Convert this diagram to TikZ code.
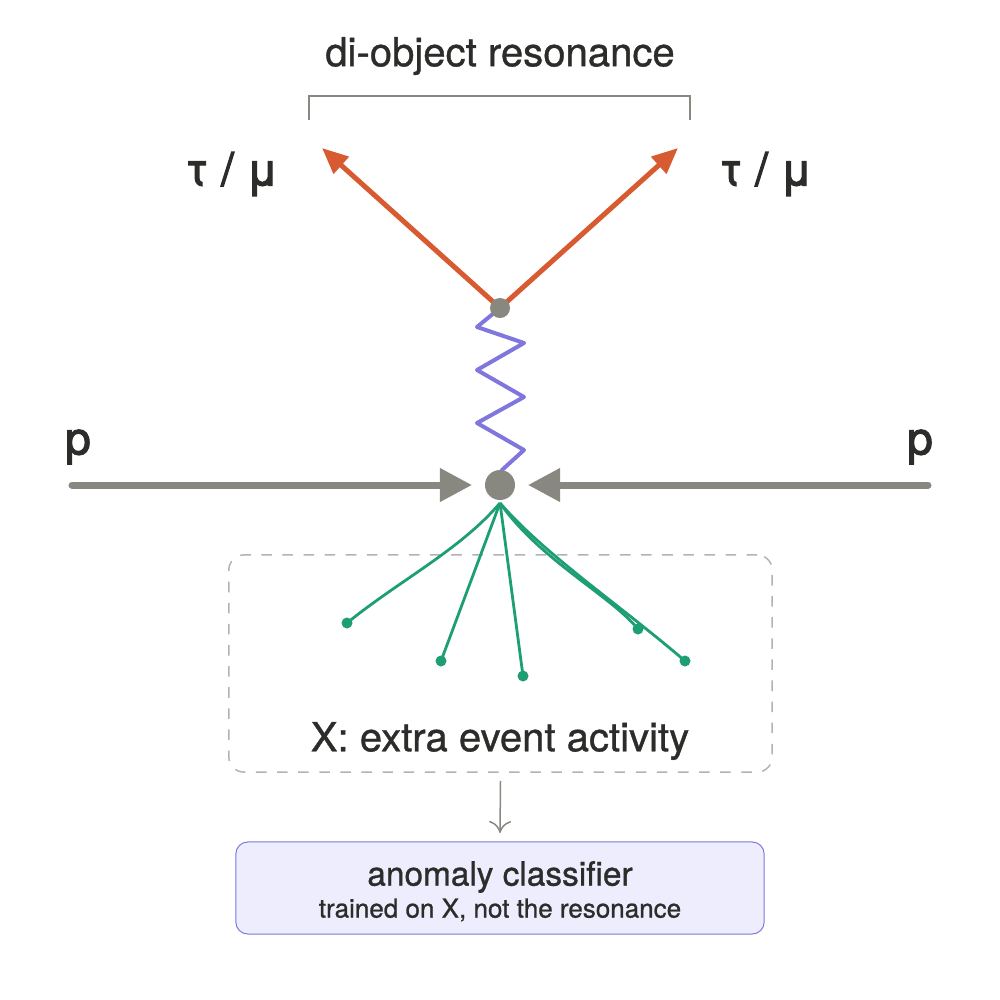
\documentclass[tikz,border=0pt]{standalone}
\usepackage{fontspec}
\setmainfont{TeX Gyre Heros}[FakeBold=0.9]
\newfontfamily\medfont{TeX Gyre Heros}[FakeBold=2.6]
\usetikzlibrary{arrows.meta}
\definecolor{cgray}{HTML}{888780}
\definecolor{corange}{HTML}{D85A30}
\definecolor{cpurple}{HTML}{7F77DD}
\definecolor{cgreen}{HTML}{1D9E75}
\definecolor{cfill}{HTML}{EEEDFE}
\definecolor{ctext}{HTML}{2C2C2A}
\definecolor{cdash}{HTML}{B4B2A9}
\tikzset{
  lbl/.style={text=ctext, inner sep=0pt},
  biglbl/.style={text=ctext, inner sep=0pt, font=\medfont\fontsize{13}{15}\selectfont},
  vtx/.style={circle, fill=cgray, inner sep=0pt},
  lepton/.style={draw=corange, line width=0.5mm, -{Triangle[length=2.6mm,width=2.2mm]}},
  beam/.style={draw=cgray, line width=0.7mm, line cap=round, -{Triangle[length=3.2mm,width=3.2mm]}},
  jet/.style={draw=cgreen, line width=0.28mm},
  jdot/.style={circle, fill=cgreen, inner sep=0pt, minimum size=1.1mm},
}
\begin{document}
\begin{tikzpicture}[x=0.01cm,y=-0.01cm]
\useasboundingbox (0,0) rectangle (1000,1000);
% title and bracket
\node[lbl, font=\fontsize{11.4}{13}\selectfont] (title) at (500,56) {di-object resonance};
\coordinate (bl) at (309,120);
\coordinate (br) at (690,120);
\draw[cgray, line width=0.15mm] (bl) -- (309,96) -- (690,96) -- (br);
% vertex positions
\coordinate (topc) at (500,308);
\coordinate (botc) at (500,485);
% leptons
\coordinate (l1) at (322,148);
\coordinate (l2) at (678,148);
\draw[lepton] (topc) -- (l1);
\draw[lepton] (topc) -- (l2);
\node[biglbl] (tl) at (232,174) {τ / μ};
\node[biglbl] (tr) at (766,174) {τ / μ};
% zigzag
\draw[cpurple, line width=0.4mm, line join=round] (botc) -- (502,470) -- (524,450) -- (477,423) -- (524,397) -- (477,370) -- (524,343) -- (477,327) -- (topc);
% vertices on top
\node[vtx, minimum size=2.0mm] (top) at (topc) {};
\node[vtx, minimum size=3.0mm] (bot) at (botc) {};
% beams
\coordinate (pl) at (72,485);
\coordinate (pr) at (928,485);
\coordinate (al) at (472,485);
\coordinate (ar) at (528,485);
\draw[beam] (pl) -- (al);
\draw[beam] (pr) -- (ar);
\node[biglbl] (p1) at (78,447) {p};
\node[biglbl] (p2) at (920,447) {p};
% dashed box
\node[draw=cdash, dashed, line width=0.15mm, rounded corners=1.5mm, minimum width=5.43cm, minimum height=2.17cm, inner sep=0pt] (xbox) at (500.5,663.5) {};
\node[lbl, font=\fontsize{11.4}{13}\selectfont] (xlabel) at (500,741) {X: extra event activity};
% jets
\coordinate (hub) at (500,503);
\node[jdot] (j1) at (347,623) {};
\node[jdot] (j2) at (441,661) {};
\node[jdot] (j3) at (523,676) {};
\node[jdot] (j4) at (638,629) {};
\node[jdot] (j5) at (685,661) {};
\draw[jet] (hub) .. controls (460,550) and (400,580) .. (j1.center);
\draw[jet] (hub) -- (j2.center);
\draw[jet] (hub) -- (j3.center);
\draw[jet] (hub) .. controls (540,560) and (610,595) .. (j4.center);
\draw[jet] (hub) .. controls (545,555) and (620,605) .. (j5.center);
% classifier
\node[draw=cpurple, fill=cfill, line width=0.1mm, rounded corners=1.2mm, minimum width=5.28cm, minimum height=0.92cm, inner sep=0pt] (cls) at (500,888) {};
\node[lbl, font=\fontsize{9.5}{11}\selectfont] (c1) at (500,877) {anomaly classifier};
\node[lbl, font=\fontsize{7.4}{9}\selectfont] (c2) at (500,910) {trained on X, not the resonance};
\draw[cgray, line width=0.15mm, -{To[length=1.2mm,width=2.2mm]}] (xbox.south) ++(0,8) -- (cls.north |- 0,833);
\end{tikzpicture}
\end{document}
